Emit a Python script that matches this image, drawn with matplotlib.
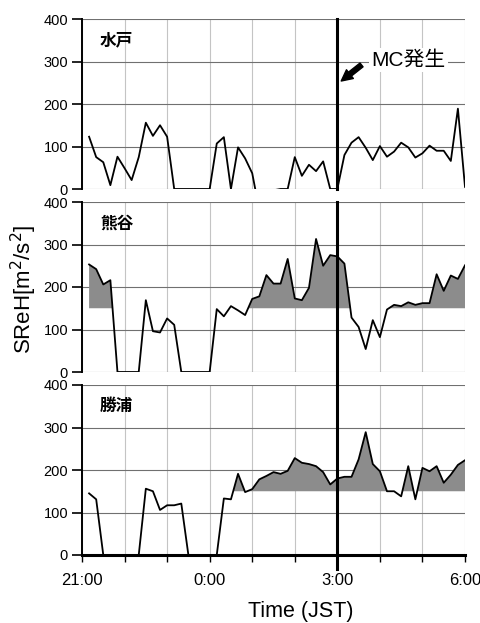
import numpy as np
import matplotlib.pyplot as plt

plt.rcParams['font.family'] = ['Liberation Sans', 'Noto Sans CJK JP']

# 10分毎 21:10 ～ 6:00
hours = 21 + np.arange(1, 55) / 6.0
nan = np.nan

mito = [123, 75, 63, 9, 76, 49, 21, 75, 156, 125, 150, 123,
        0, 0, 0, 0, 0, 0, 107, 122, 0, 98, 72, 37,
        -50, nan, -3, 0, 0, 75, 31, 57, 42, 65, 0, 0,
        80, 109, 122, 97, 68, 101, 76, 88, 109, 98, 74, 84,
        102, 90, 90, 66, 189, 5]
kumagaya = [253, 242, 206, 216, 0, 0, 0, 0, 169, 96, 93, 126,
            111, 0, 0, 0, 0, 0, 148, 131, 155, 145, 134, 172,
            178, 228, 208, 208, 266, 173, 169, 198, 313, 250, 275, 272,
            255, 128, 106, 54, 122, 82, 147, 158, 155, 164, 158, 162,
            162, 230, 191, 227, 219, 251]
katsuura = [145, 131, 0, 0, 0, 0, 0, 0, 156, 150, 106, 117,
            117, 121, 0, 0, 0, 0, 0, 133, 131, 191, 148, 155,
            178, 186, 195, 191, 198, 228, 217, 214, 209, 195, 166, 180,
            184, 184, 225, 289, 214, 197, 150, 150, 138, 209, 131, 205,
            197, 209, 170, 189, 212, 223]

stations = ['水戸', '熊谷', '勝浦']
series = [mito, kumagaya, katsuura]
shade_from = [None, 21, 19]   # 網掛け開始インデックス
shade_early = [None, 4, None]  # 冒頭の網掛け（熊谷のみ）
base = 150

fig = plt.figure(figsize=(4.8, 6.23), dpi=100)
left, width = 82 / 480, 383 / 480
tops = [19, 202, 385]
h_px = 170

axes = []
for k in range(3):
    bottom = 1 - (tops[k] + h_px) / 623
    ax = fig.add_axes([left, bottom, width, h_px / 623])
    axes.append(ax)
    y = np.array(series[k], dtype=float)
    idx = np.arange(len(y))

    if shade_from[k] is not None:
        mask = idx >= shade_from[k]
        if shade_early[k] is not None:
            mask = mask | (idx <= shade_early[k])
        mask = mask & (np.nan_to_num(y) > base)
        ax.fill_between(hours, y, base, where=mask, interpolate=True,
                        color='#8c8c8c', lw=0, zorder=2)

    ax.plot(hours, y, color='black', lw=1.3, zorder=3)
    ax.axvline(27, color='black', lw=2.2, zorder=4,
               ymin=-0.08 if k > 0 else 0, ymax=1, clip_on=False)

    ax.set_xlim(21, 30)
    ax.set_ylim(0, 400)
    ax.set_yticks([0, 100, 200, 300, 400])
    ax.set_xticks([21, 24, 27, 30])
    ax.set_xticks(np.arange(21, 31), minor=True)
    ax.grid(axis='y', color='#707070', lw=0.8, zorder=1)
    ax.grid(axis='x', which='both', color='#c4c4c4', lw=0.8, zorder=1)
    ax.set_axisbelow(True)

    for s in ['top', 'right', 'bottom']:
        ax.spines[s].set_visible(False)
    ax.spines['left'].set_linewidth(1.4)
    ax.tick_params(axis='y', direction='out', length=7, width=1.2,
                   labelsize=10.5, pad=3)

    if k < 2:
        ax.tick_params(axis='x', which='both', length=0, labelbottom=False)
    else:
        ax.spines['bottom'].set_visible(True)
        ax.spines['bottom'].set_linewidth(2.2)
        ax.set_xticklabels(['21:00', '0:00', '3:00', '6:00'])
        ax.tick_params(axis='x', which='both', direction='out', length=5,
                       width=1.0, labelsize=12, pad=8)

    ax.text(0.047, 0.875, stations[k], transform=ax.transAxes,
            fontsize=12, fontweight='bold', va='center', ha='left',
            family=['Noto Sans CJK JP'])

# MC発生 の注記
ax0 = axes[0]
ax0.text(27.8, 303, 'MC発生', fontsize=15, va='center', ha='left',
         bbox=dict(facecolor='white', edgecolor='none', pad=2), zorder=5)
ax0.annotate('', xy=(27.04, 250), xytext=(27.62, 296),
             arrowprops=dict(arrowstyle='simple,head_length=0.8,head_width=0.8,tail_width=0.35',
                             fc='black', ec='black'), zorder=5)

fig.text(0.05, 0.535, 'SReH[m$^2$/s$^2$]', rotation=90, fontsize=16,
         va='center', ha='center')
fig.text(301 / 480, 1 - 612 / 623, 'Time (JST)', fontsize=15.5,
         va='center', ha='center')

fig.savefig('out.png', dpi=100)
